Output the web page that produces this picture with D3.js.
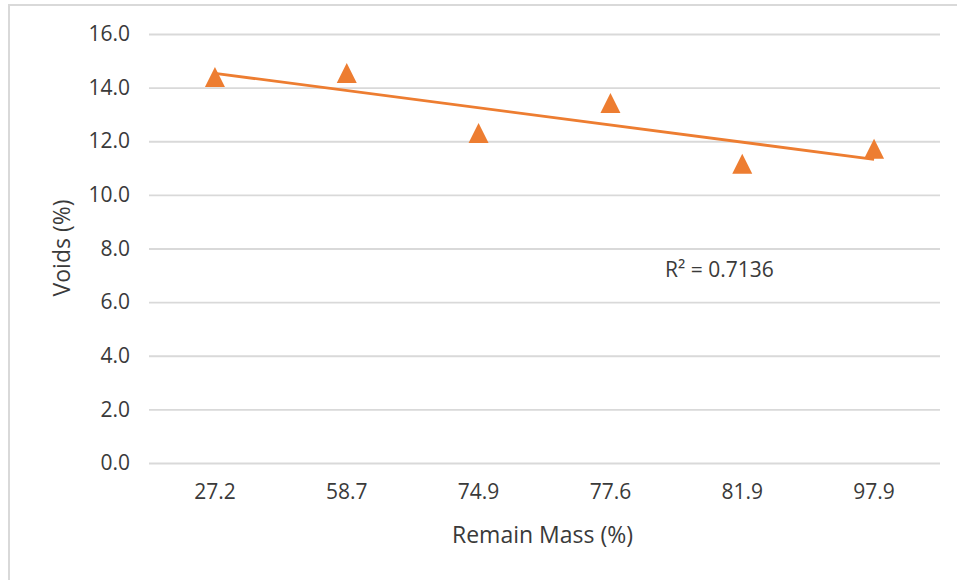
<!DOCTYPE html>
<html>
<head>
<meta charset="utf-8">
<script src="https://cdn.jsdelivr.net/npm/d3@7/dist/d3.min.js"></script>
<style>
  html, body { margin: 0; padding: 0; background: #fff; }
  svg { display: block; font-family: "Open Sans", "Noto Sans", sans-serif; }
</style>
</head>
<body>
<svg id="chart" width="957" height="580"></svg>
<script>
// Remaining mass categories and measured void content
const categories = ["27.2", "58.7", "74.9", "77.6", "81.9", "97.9"];
const voids = [14.40, 14.55, 12.31, 13.43, 11.16, 11.72];
const yTicks = [0, 2, 4, 6, 8, 10, 12, 14, 16];
const rSquaredLabel = "R² = 0.7136";
const xTitle = "Remain Mass (%)";
const yTitle = "Voids (%)";

const W = 957, H = 580;
const plot = { left: 149, right: 940, top: 34, bottom: 463 };
const orange = "#ED7D31";
const grid = "#d9d9d9";
const textCol = "#3a3a3a";

const svg = d3.select("#chart");

// Chart-area frame
svg.append("rect")
  .attr("x", 9).attr("y", 5)
  .attr("width", W).attr("height", H)
  .attr("fill", "#fff")
  .attr("stroke", grid).attr("stroke-width", 2);

const x = d3.scaleBand().domain(categories).range([plot.left, plot.right]).paddingInner(0).paddingOuter(0);
const y = d3.scaleLinear().domain([0, 16]).range([plot.bottom, plot.top]);

// Horizontal gridlines with value labels
const yAxis = d3.axisLeft(y).tickValues(yTicks).tickFormat(d3.format(".1f"))
  .tickSize(-(plot.right - plot.left)).tickPadding(19);
const gy = svg.append("g").attr("transform", `translate(${plot.left},0)`).call(yAxis);
gy.select(".domain").remove();
gy.selectAll(".tick line").attr("stroke", grid).attr("stroke-width", 1.8);
gy.selectAll(".tick text").attr("fill", textCol).attr("font-size", 21).attr("font-family", "Open Sans");

// Category labels
const xAxis = d3.axisBottom(x).tickSize(0).tickPadding(21);
const gx = svg.append("g").attr("transform", `translate(0,${plot.bottom})`).call(xAxis);
gx.select(".domain").remove();
gx.selectAll(".tick text").attr("fill", textCol).attr("font-size", 21).attr("font-family", "Open Sans");

// Least-squares trendline over category index
const idx = categories.map((_, i) => i + 1);
const mx = d3.mean(idx), my = d3.mean(voids);
const sxy = d3.sum(idx, (v, i) => (v - mx) * (voids[i] - my));
const sxx = d3.sum(idx, v => (v - mx) ** 2);
const slope = sxy / sxx, intercept = my - slope * mx;
const cx = c => x(c) + x.bandwidth() / 2;
const trend = [categories[0], categories[categories.length - 1]].map(c => {
  const i = categories.indexOf(c) + 1;
  return [cx(c), y(intercept + slope * i)];
});
svg.append("path")
  .attr("d", d3.line()(trend))
  .attr("fill", "none").attr("stroke", orange).attr("stroke-width", 2.8);

// Triangle markers
const tri = "M0,-10L10,10L-10,10Z";
svg.append("g").selectAll("path").data(voids).join("path")
  .attr("d", tri)
  .attr("transform", (d, i) => `translate(${cx(categories[i])},${y(d)})`)
  .attr("fill", orange);

// R² annotation
svg.append("text")
  .attr("x", 665).attr("y", 277)
  .attr("fill", textCol).attr("font-size", 21)
  .text(rSquaredLabel);

// Axis titles
svg.append("text")
  .attr("x", (plot.left + plot.right) / 2 - 2).attr("y", 543)
  .attr("text-anchor", "middle").attr("fill", textCol).attr("font-size", 23)
  .text(xTitle);
svg.append("text")
  .attr("transform", "translate(70,248) rotate(-90)")
  .attr("text-anchor", "middle").attr("fill", textCol).attr("font-size", 23)
  .text(yTitle);
</script>
</body>
</html>
